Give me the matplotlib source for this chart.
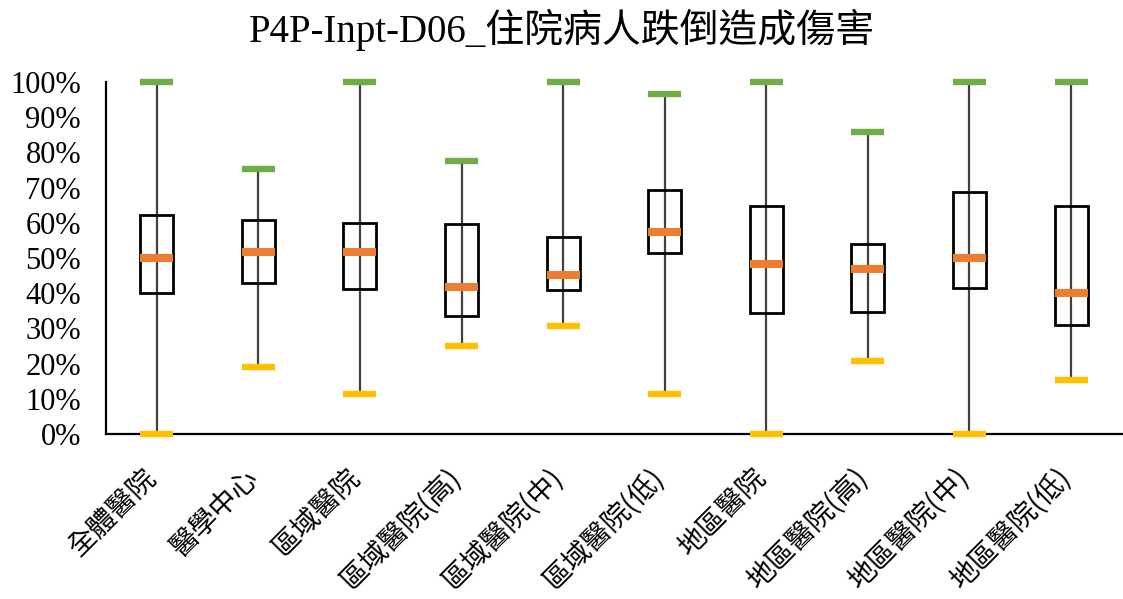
import matplotlib
matplotlib.use("Agg")
import matplotlib.pyplot as plt
from matplotlib.ticker import PercentFormatter
from matplotlib.transforms import ScaledTranslation

# values (fractions)
categories = ['全體醫院', '醫學中心', '區域醫院', '區域醫院(高)', '區域醫院(中)',
              '區域醫院(低)', '地區醫院', '地區醫院(高)', '地區醫院(中)', '地區醫院(低)']
v_max = [1.00, 0.753, 1.00, 0.777, 1.00, 0.965, 1.00, 0.858, 1.00, 1.00]
v_q3 = [0.622, 0.609, 0.600, 0.598, 0.560, 0.694, 0.649, 0.540, 0.688, 0.647]
v_med = [0.500, 0.518, 0.518, 0.419, 0.453, 0.575, 0.482, 0.470, 0.500, 0.401]
v_q1 = [0.401, 0.429, 0.411, 0.336, 0.408, 0.515, 0.345, 0.347, 0.416, 0.309]
v_min = [0.0, 0.190, 0.114, 0.250, 0.307, 0.114, 0.0, 0.208, 0.0, 0.154]

serif = ['Liberation Serif', 'Noto Sans CJK TC']
cjk = ['Noto Sans CJK TC', 'DejaVu Sans']

fig = plt.figure(figsize=(11.23, 5.99), dpi=100)
ax = fig.add_axes([0.0944, 0.2755, 0.9046, 0.5875])

x = list(range(len(categories)))
w = 0.325

ax.vlines(x, v_min, v_max, color='#404040', lw=1.6, zorder=2)
ax.bar(x, [b - a for a, b in zip(v_q1, v_q3)], bottom=v_q1, width=w,
       facecolor='none', edgecolor='black', lw=2, zorder=3)
ax.hlines(v_max, [i - w / 2 for i in x], [i + w / 2 for i in x],
          color='#70AD47', lw=4.6, capstyle='butt', zorder=4, clip_on=False)
ax.hlines(v_min, [i - w / 2 for i in x], [i + w / 2 for i in x],
          color='#FFC000', lw=4.6, capstyle='butt', zorder=4, clip_on=False)
ax.hlines(v_med, [i - w / 2 for i in x], [i + w / 2 for i in x],
          color='#ED7D31', lw=5.8, capstyle='butt', zorder=4)

ax.set_xlim(-0.5, len(categories) - 0.5)
ax.set_ylim(0, 1)
ax.set_yticks([i / 10 for i in range(11)])
ax.yaxis.set_major_formatter(PercentFormatter(1.0, decimals=0))
ax.tick_params(axis='y', length=0, pad=18)
ax.tick_params(axis='x', length=0, pad=8)
for lab in ax.get_yticklabels():
    lab.set_family(serif)
    lab.set_fontsize(22)

ax.set_xticks(x)
ax.set_xticklabels(categories, rotation=45, ha='right', va='top',
                   rotation_mode='anchor', family=cjk, fontsize=20)
shift = ScaledTranslation(-0.15, -0.18, fig.dpi_scale_trans)
for lab in ax.get_xticklabels():
    lab.set_transform(lab.get_transform() + shift)

for s in ['top', 'right']:
    ax.spines[s].set_visible(False)
ax.spines['left'].set_linewidth(1.6)
ax.spines['bottom'].set_linewidth(1.6)

fig.text(0.5, 0.95, 'P4P-Inpt-D06_住院病人跌倒造成傷害', ha='center', va='center',
         family=serif, fontsize=28)

fig.savefig('out.png', dpi=100)
